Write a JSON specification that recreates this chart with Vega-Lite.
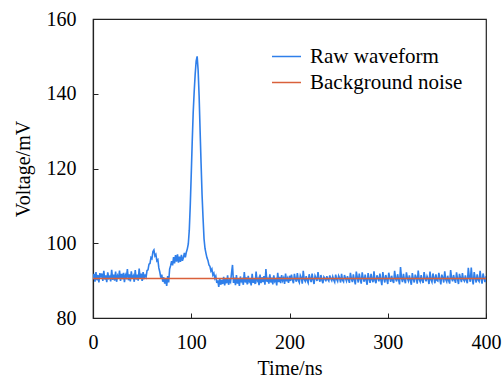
{
"$schema": "https://vega.github.io/schema/vega-lite/v6.json",
"autosize": "none",
"width": 393,
"height": 299,
"padding": {"left": 93, "top": 19, "right": 16, "bottom": 60},
"background": "white",
"config": {
  "font": "Liberation Serif",
  "view": {"stroke": "#222", "strokeWidth": 1.2},
  "axis": {"grid": false, "domainColor": "#222", "domainWidth": 1.2, "tickColor": "#222", "tickSize": -5, "labelFont": "Liberation Serif", "titleFont": "Liberation Serif", "labelFontSize": 20, "titleFontSize": 20, "labelColor": "#000", "titleColor": "#000", "titleFontWeight": "normal"},
  "legend": {"labelFont": "Liberation Serif", "labelFontSize": 21, "labelColor": "#000"}
},
"datasets": {
"raw": [
{"t":0,"v":90.4},{"t":1,"v":91.8},{"t":2,"v":89.7},{"t":3,"v":92.3},{"t":4,"v":90.1},{"t":5,"v":91.5},{"t":6,"v":89.5},{"t":7,"v":92.0},{"t":8,"v":90.8},{"t":9,"v":91.9},
{"t":10,"v":89.9},{"t":11,"v":92.6},{"t":12,"v":90.3},{"t":13,"v":91.4},{"t":14,"v":89.6},{"t":15,"v":92.2},{"t":16,"v":90.7},{"t":17,"v":91.1},{"t":18,"v":89.8},{"t":19,"v":92.9},
{"t":20,"v":90.2},{"t":21,"v":91.6},{"t":22,"v":90.0},{"t":23,"v":92.4},{"t":24,"v":89.7},{"t":25,"v":91.3},{"t":26,"v":90.6},{"t":27,"v":92.7},{"t":28,"v":89.9},{"t":29,"v":91.8},
{"t":30,"v":90.4},{"t":31,"v":92.1},{"t":32,"v":89.6},{"t":33,"v":91.5},{"t":34,"v":90.9},{"t":35,"v":93.1},{"t":36,"v":90.1},{"t":37,"v":91.7},{"t":38,"v":89.8},{"t":39,"v":92.5},
{"t":40,"v":90.5},{"t":41,"v":91.2},{"t":42,"v":89.7},{"t":43,"v":92.8},{"t":44,"v":90.3},{"t":45,"v":91.6},{"t":46,"v":90.0},{"t":47,"v":93.2},{"t":48,"v":90.6},{"t":49,"v":91.9},
{"t":50,"v":89.9},{"t":51,"v":92.3},{"t":52,"v":90.8},{"t":53,"v":91.4},{"t":54,"v":90.9},{"t":55,"v":92.7},{"t":56,"v":92.9},{"t":57,"v":94.4},{"t":58,"v":94.6},{"t":59,"v":96.2},
{"t":60,"v":95.9},{"t":61,"v":97.8},{"t":62,"v":98.2},{"t":63,"v":96.6},{"t":64,"v":97.0},{"t":65,"v":95.3},{"t":66,"v":95.6},{"t":67,"v":93.4},{"t":68,"v":92.3},{"t":69,"v":90.8},
{"t":70,"v":91.6},{"t":71,"v":89.7},{"t":72,"v":90.9},{"t":73,"v":89.2},{"t":74,"v":90.4},{"t":75,"v":88.6},{"t":76,"v":91.2},{"t":77,"v":89.5},{"t":78,"v":93.1},{"t":79,"v":94.0},
{"t":80,"v":95.2},{"t":81,"v":94.1},{"t":82,"v":96.3},{"t":83,"v":94.6},{"t":84,"v":96.8},{"t":85,"v":95.1},{"t":86,"v":97.0},{"t":87,"v":94.8},{"t":88,"v":96.4},{"t":89,"v":95.0},
{"t":90,"v":96.9},{"t":91,"v":95.3},{"t":92,"v":96.1},{"t":93,"v":97.4},{"t":94,"v":96.2},{"t":95,"v":97.6},{"t":96,"v":98.5},{"t":97,"v":99.8},{"t":98,"v":103.5},{"t":99,"v":110.2},
{"t":100,"v":118.5},{"t":101,"v":127.3},{"t":102,"v":135.1},{"t":103,"v":140.6},{"t":104,"v":145.2},{"t":105,"v":148.7},{"t":106,"v":150.0},{"t":107,"v":146.3},{"t":108,"v":139.5},{"t":109,"v":130.2},
{"t":110,"v":121.4},{"t":111,"v":113.0},{"t":112,"v":106.8},{"t":113,"v":101.2},{"t":114,"v":98.6},{"t":115,"v":97.3},{"t":116,"v":96.1},{"t":117,"v":95.4},{"t":118,"v":94.2},{"t":119,"v":93.8},
{"t":120,"v":92.6},{"t":121,"v":93.1},{"t":122,"v":91.5},{"t":123,"v":92.0},{"t":124,"v":90.6},{"t":125,"v":91.2},{"t":126,"v":89.4},{"t":127,"v":90.1},{"t":128,"v":88.3},{"t":129,"v":90.7},
{"t":130,"v":88.9},{"t":131,"v":90.2},{"t":132,"v":89.1},{"t":133,"v":91.0},{"t":134,"v":88.7},{"t":135,"v":90.5},{"t":136,"v":89.3},{"t":137,"v":91.4},{"t":138,"v":88.9},{"t":139,"v":90.1},
{"t":140,"v":89.6},{"t":141,"v":92.0},{"t":142,"v":94.2},{"t":143,"v":89.4},{"t":144,"v":90.8},{"t":145,"v":88.8},{"t":146,"v":91.5},{"t":147,"v":89.2},{"t":148,"v":90.4},{"t":149,"v":88.6},
{"t":150,"v":91.1},{"t":151,"v":89.8},{"t":152,"v":90.3},{"t":153,"v":88.9},{"t":154,"v":92.3},{"t":155,"v":89.5},{"t":156,"v":90.9},{"t":157,"v":89.0},{"t":158,"v":91.3},{"t":159,"v":89.7},
{"t":160,"v":90.2},{"t":161,"v":88.7},{"t":162,"v":91.8},{"t":163,"v":89.4},{"t":164,"v":90.6},{"t":165,"v":89.1},{"t":166,"v":92.4},{"t":167,"v":89.9},{"t":168,"v":90.5},{"t":169,"v":88.8},
{"t":170,"v":91.6},{"t":171,"v":89.3},{"t":172,"v":90.9},{"t":173,"v":89.6},{"t":174,"v":91.2},{"t":175,"v":88.9},{"t":176,"v":93.1},{"t":177,"v":89.7},{"t":178,"v":90.4},{"t":179,"v":89.2},
{"t":180,"v":91.7},{"t":181,"v":89.5},{"t":182,"v":90.8},{"t":183,"v":89.0},{"t":184,"v":91.4},{"t":185,"v":89.8},{"t":186,"v":90.3},{"t":187,"v":88.7},{"t":188,"v":92.1},{"t":189,"v":89.6},
{"t":190,"v":91.0},{"t":191,"v":89.3},{"t":192,"v":91.5},{"t":193,"v":90.0},{"t":194,"v":90.7},{"t":195,"v":89.1},{"t":196,"v":91.9},{"t":197,"v":89.8},{"t":198,"v":90.6},{"t":199,"v":89.4},
{"t":200,"v":91.3},{"t":201,"v":89.9},{"t":202,"v":91.6},{"t":203,"v":90.2},{"t":204,"v":89.3},{"t":205,"v":91.8},{"t":206,"v":90.4},{"t":207,"v":89.7},{"t":208,"v":92.0},{"t":209,"v":90.1},
{"t":210,"v":89.5},{"t":211,"v":91.4},{"t":212,"v":90.8},{"t":213,"v":89.2},{"t":214,"v":92.6},{"t":215,"v":90.3},{"t":216,"v":89.8},{"t":217,"v":91.2},{"t":218,"v":90.0},{"t":219,"v":89.4},
{"t":220,"v":91.7},{"t":221,"v":90.5},{"t":222,"v":89.6},{"t":223,"v":91.9},{"t":224,"v":90.2},{"t":225,"v":89.1},{"t":226,"v":91.3},{"t":227,"v":90.7},{"t":228,"v":89.9},{"t":229,"v":92.3},
{"t":230,"v":90.4},{"t":231,"v":89.7},{"t":232,"v":91.5},{"t":233,"v":90.1},{"t":234,"v":89.3},{"t":235,"v":91.0},{"t":236,"v":90.6},{"t":237,"v":89.8},{"t":238,"v":91.2},{"t":239,"v":90.3},
{"t":240,"v":89.9},{"t":241,"v":91.4},{"t":242,"v":90.5},{"t":243,"v":90.0},{"t":244,"v":91.1},{"t":245,"v":90.2},{"t":246,"v":89.6},{"t":247,"v":91.6},{"t":248,"v":90.4},{"t":249,"v":89.8},
{"t":250,"v":91.3},{"t":251,"v":90.7},{"t":252,"v":89.5},{"t":253,"v":91.8},{"t":254,"v":90.1},{"t":255,"v":89.7},{"t":256,"v":91.5},{"t":257,"v":90.6},{"t":258,"v":89.9},{"t":259,"v":91.2},
{"t":260,"v":90.3},{"t":261,"v":89.4},{"t":262,"v":92.1},{"t":263,"v":90.5},{"t":264,"v":89.6},{"t":265,"v":91.7},{"t":266,"v":90.2},{"t":267,"v":89.0},{"t":268,"v":92.4},{"t":269,"v":90.8},
{"t":270,"v":89.5},{"t":271,"v":91.9},{"t":272,"v":90.4},{"t":273,"v":89.2},{"t":274,"v":92.2},{"t":275,"v":90.6},{"t":276,"v":89.7},{"t":277,"v":91.6},{"t":278,"v":90.1},{"t":279,"v":88.9},
{"t":280,"v":92.0},{"t":281,"v":90.5},{"t":282,"v":89.4},{"t":283,"v":91.8},{"t":284,"v":90.3},{"t":285,"v":89.6},{"t":286,"v":92.5},{"t":287,"v":90.0},{"t":288,"v":89.3},{"t":289,"v":91.4},
{"t":290,"v":90.7},{"t":291,"v":89.8},{"t":292,"v":91.9},{"t":293,"v":90.2},{"t":294,"v":88.8},{"t":295,"v":92.3},{"t":296,"v":90.6},{"t":297,"v":89.5},{"t":298,"v":91.5},{"t":299,"v":90.4},
{"t":300,"v":89.1},{"t":301,"v":92.1},{"t":302,"v":90.8},{"t":303,"v":89.7},{"t":304,"v":91.3},{"t":305,"v":90.0},{"t":306,"v":89.4},{"t":307,"v":92.6},{"t":308,"v":90.5},{"t":309,"v":89.8},
{"t":310,"v":91.7},{"t":311,"v":90.3},{"t":312,"v":89.0},{"t":313,"v":93.6},{"t":314,"v":90.7},{"t":315,"v":89.6},{"t":316,"v":91.8},{"t":317,"v":90.2},{"t":318,"v":89.3},{"t":319,"v":92.2},
{"t":320,"v":90.6},{"t":321,"v":89.9},{"t":322,"v":91.4},{"t":323,"v":90.1},{"t":324,"v":88.9},{"t":325,"v":92.0},{"t":326,"v":90.4},{"t":327,"v":89.5},{"t":328,"v":91.6},{"t":329,"v":90.8},
{"t":330,"v":89.2},{"t":331,"v":92.7},{"t":332,"v":90.3},{"t":333,"v":89.7},{"t":334,"v":91.5},{"t":335,"v":90.0},{"t":336,"v":89.4},{"t":337,"v":92.3},{"t":338,"v":90.6},{"t":339,"v":89.8},
{"t":340,"v":91.2},{"t":341,"v":90.5},{"t":342,"v":89.1},{"t":343,"v":92.4},{"t":344,"v":90.2},{"t":345,"v":89.6},{"t":346,"v":91.9},{"t":347,"v":90.7},{"t":348,"v":89.3},{"t":349,"v":91.7},
{"t":350,"v":90.1},{"t":351,"v":89.9},{"t":352,"v":92.1},{"t":353,"v":90.4},{"t":354,"v":89.0},{"t":355,"v":91.6},{"t":356,"v":90.8},{"t":357,"v":89.5},{"t":358,"v":92.5},{"t":359,"v":90.3},
{"t":360,"v":89.7},{"t":361,"v":91.3},{"t":362,"v":90.0},{"t":363,"v":89.2},{"t":364,"v":92.8},{"t":365,"v":90.6},{"t":366,"v":89.8},{"t":367,"v":91.5},{"t":368,"v":90.2},{"t":369,"v":89.4},
{"t":370,"v":92.2},{"t":371,"v":90.5},{"t":372,"v":89.1},{"t":373,"v":91.8},{"t":374,"v":90.7},{"t":375,"v":89.6},{"t":376,"v":92.0},{"t":377,"v":90.3},{"t":378,"v":89.9},{"t":379,"v":91.4},
{"t":380,"v":90.1},{"t":381,"v":89.3},{"t":382,"v":93.4},{"t":383,"v":90.8},{"t":384,"v":89.7},{"t":385,"v":93.5},{"t":386,"v":90.4},{"t":387,"v":89.0},{"t":388,"v":92.3},{"t":389,"v":90.6},
{"t":390,"v":89.5},{"t":391,"v":91.7},{"t":392,"v":90.2},{"t":393,"v":89.8},{"t":394,"v":92.6},{"t":395,"v":90.5},{"t":396,"v":89.2},{"t":397,"v":91.9},{"t":398,"v":90.7},{"t":399,"v":89.6},
{"t":400,"v":91.2}
],
"bg": [{"t":0,"v":90.6},{"t":400,"v":90.6}]
},
"encoding": {
  "x": {"field": "t", "type": "quantitative", "scale": {"domain": [0, 400], "nice": false}, "axis": {"values": [0,100,200,300,400], "title": "Time/ns", "labelPadding": 19, "titlePadding": 6, "labelFlush": false}},
  "y": {"field": "v", "type": "quantitative", "scale": {"domain": [80, 160], "nice": false, "zero": false}, "axis": {"values": [80,100,120,140,160], "title": "Voltage/mV", "labelPadding": 22, "titlePadding": 13}}
},
"layer": [
  {"data": {"name": "raw"}, "mark": {"type": "line", "strokeWidth": 1.6, "clip": true},
   "encoding": {"color": {"datum": "Raw waveform", "type": "nominal", "scale": {"domain": ["Raw waveform", "Background noise"], "range": ["#2f7fea", "#d9603b"]},
     "legend": {"title": null, "orient": "none", "legendX": 178, "legendY": 22, "symbolType": "stroke", "symbolSize": 841, "symbolStrokeWidth": 1.5, "labelOffset": 8, "rowPadding": 0}}}},
  {"data": {"name": "bg"}, "mark": {"type": "line", "strokeWidth": 1.5},
   "encoding": {"color": {"datum": "Background noise", "type": "nominal"}}}
]
}
